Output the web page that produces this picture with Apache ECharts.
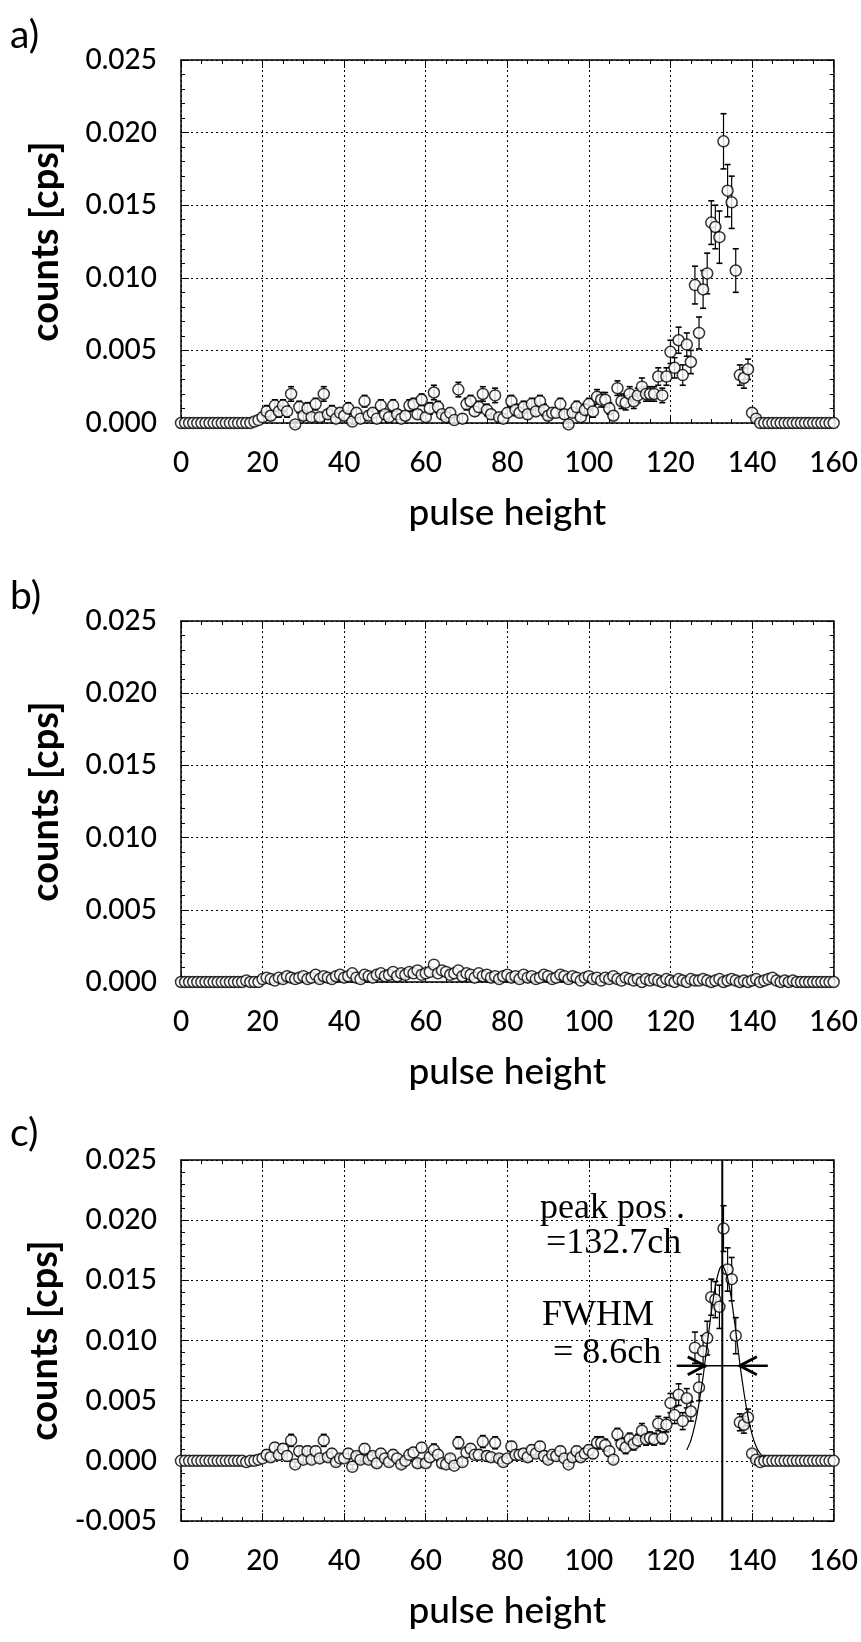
<!DOCTYPE html>
<html><head><meta charset="utf-8">
<script src="https://cdn.jsdelivr.net/npm/echarts@6/dist/echarts.min.js"></script>
<style>html,body{margin:0;padding:0;background:#fff}#c{width:861px;height:1642px}</style>
</head><body><div id="c"></div>
<script>
// ---------- data ----------
const channels = []; for (let i = 0; i <= 160; i++) channels.push(i);
const xTickValues = [0, 20, 40, 60, 80, 100, 120, 140, 160];

// a) measured spectrum [cps], channel 0..160
const countsA = [
 0,0,0,0,0,0,0,0,0,0,
 0,0,0,0,0,0,0,0,0.0001,0.0002,
 0.0004,0.0008,0.0005,0.0012,0.0008,0.0012,0.0008,0.0020,-0.0001,0.0011,
 0.0005,0.0010,0.0004,0.0013,0.0004,0.0020,0.0006,0.0008,0.0003,0.0007,
 0.0005,0.0010,0.0001,0.0007,0.0003,0.0015,0.0005,0.0007,0.0003,0.0012,
 0.0006,0.0004,0.0012,0.0006,0.0003,0.0005,0.0012,0.0013,0.0006,0.0016,
 0.0004,0.0010,0.0021,0.0011,0.0006,0.0004,0.0007,0.0002,0.0023,0.0003,
 0.0013,0.0015,0.0008,0.0011,0.0020,0.0009,0.0006,0.0019,0.0004,0.0003,
 0.0007,0.0015,0.0009,0.0007,0.0011,0.0006,0.0013,0.0008,0.0015,0.0009,
 0.0005,0.0007,0.0007,0.0013,0.0006,-0.0001,0.0007,0.0011,0.0004,0.0009,
 0.0013,0.0008,0.0018,0.0016,0.0016,0.0010,0.0005,0.0024,0.0015,0.0014,
 0.0020,0.0015,0.0019,0.0025,0.0020,0.0020,0.0020,0.0032,0.0019,0.0032,
 0.0049,0.0038,0.0057,0.0033,0.0054,0.0042,0.0095,0.0062,0.0092,0.0103,
 0.0138,0.0135,0.0128,0.0194,0.0160,0.0152,0.0105,0.0033,0.0031,0.0037,
 0.0007,0.0003,0,0,0,0,0,0,0,0,
 0,0,0,0,0,0,0,0,0,0,
 0
];
const errA = [
 0,0,0,0,0,0,0,0,0,0,
 0,0,0,0,0,0,0,0,0.0001,0.0001,
 0.0003,0.0004,0.0003,0.0004,0.0004,0.0004,0.0004,0.0005,0.0002,0.0004,
 0.0003,0.0004,0.0003,0.0004,0.0003,0.0005,0.0003,0.0004,0.0003,0.0003,
 0.0003,0.0004,0.0002,0.0003,0.0003,0.0004,0.0003,0.0003,0.0003,0.0004,
 0.0003,0.0003,0.0004,0.0003,0.0003,0.0003,0.0004,0.0004,0.0003,0.0004,
 0.0003,0.0004,0.0005,0.0004,0.0003,0.0003,0.0003,0.0002,0.0005,0.0003,
 0.0004,0.0004,0.0003,0.0004,0.0005,0.0004,0.0003,0.0005,0.0003,0.0003,
 0.0003,0.0004,0.0004,0.0003,0.0004,0.0003,0.0004,0.0003,0.0004,0.0004,
 0.0003,0.0003,0.0003,0.0004,0.0003,0.0002,0.0003,0.0004,0.0003,0.0004,
 0.0004,0.0004,0.0005,0.0005,0.0005,0.0004,0.0003,0.0005,0.0005,0.0005,
 0.0005,0.0005,0.0005,0.0006,0.0005,0.0005,0.0005,0.0006,0.0005,0.0006,
 0.0008,0.0007,0.0009,0.0007,0.0008,0.0008,0.0013,0.0011,0.0013,0.0014,
 0.0015,0.0015,0.0018,0.0019,0.0018,0.0018,0.0015,0.0007,0.0007,0.0007,
 0.0003,0.0002,0,0,0,0,0,0,0,0,
 0,0,0,0,0,0,0,0,0,0,
 0
];

// b) background spectrum [cps]
const countsB = [
 0,0,0,0,0,0,0,0,0,0,
 0,0,0,0,0,0,0.0001,0,0,0,
 0.0002,0.0003,0.0002,0.0001,0.0003,0.0002,0.0004,0.0003,0.0002,0.0003,
 0.0004,0.0002,0.0003,0.0005,0.0002,0.0004,0.0003,0.0002,0.0004,0.0005,
 0.0003,0.0004,0.0006,0.0003,0.0002,0.0005,0.0004,0.0003,0.0005,0.0006,
 0.0004,0.0005,0.0007,0.0004,0.0006,0.0005,0.0007,0.0006,0.0008,0.0005,
 0.0006,0.0007,0.0012,0.0006,0.0008,0.0007,0.0005,0.0006,0.0008,0.0004,
 0.0006,0.0005,0.0003,0.0006,0.0004,0.0005,0.0003,0.0004,0.0002,0.0004,
 0.0005,0.0003,0.0004,0.0002,0.0005,0.0003,0.0004,0.0002,0.0003,0.0005,
 0.0004,0.0002,0.0003,0.0005,0.0004,0.0002,0.0004,0.0003,0.0001,0.0003,
 0.0004,0.0002,0.0003,0.0001,0.0003,0.0002,0.0004,0.0002,0.0001,0.0003,
 0.0002,0.0001,0.0002,0,0.0002,0.0001,0.0002,0.0001,0,0.0002,
 0.0001,0,0.0002,0.0001,0,0.0002,0.0001,0.0001,0.0002,0.0001,
 0,0.0001,0.0002,0,0.0001,0.0002,0.0001,0,0.0001,0,
 0.0001,0.0002,0,0.0001,0.0002,0.0003,0.0001,0,0.0001,0,
 0.0001,0,0,0,0,0,0,0,0,0,
 0
];

// c) background-subtracted spectrum [cps]
const countsC = [
 0,0,0,0,0,0,0,0,0,0,
 0,0,0,0,0,0,-0.0001,0,0,0.0001,
 0.0002,0.0005,0.0003,0.0011,0.0005,0.0010,0.0004,0.0017,-0.0003,0.0008,
 0.0001,0.0008,0.0001,0.0008,0.0002,0.0017,0.0003,0.0006,-0.0001,0.0002,
 0.0002,0.0006,-0.0005,0.0004,0.0001,0.0010,0.0001,0.0004,-0.0002,0.0006,
 0.0002,-0.0001,0.0005,0.0002,-0.0003,0.0000,0.0005,0.0007,-0.0002,0.0011,
 -0.0002,0.0003,0.0009,0.0005,-0.0002,-0.0003,0.0002,-0.0004,0.0015,-0.0001,
 0.0007,0.0010,0.0005,0.0005,0.0016,0.0004,0.0003,0.0015,0.0002,-0.0001,
 0.0002,0.0012,0.0005,0.0005,0.0006,0.0003,0.0009,0.0006,0.0012,0.0004,
 0.0001,0.0005,0.0004,0.0008,0.0002,-0.0003,0.0003,0.0008,0.0003,0.0006,
 0.0009,0.0006,0.0015,0.0015,0.0013,0.0008,0.0001,0.0022,0.0014,0.0011,
 0.0018,0.0014,0.0017,0.0025,0.0018,0.0019,0.0018,0.0031,0.0019,0.0030,
 0.0048,0.0038,0.0055,0.0033,0.0052,0.0041,0.0094,0.0061,0.0091,0.0102,
 0.0136,0.0134,0.0128,0.0193,0.0159,0.0151,0.0104,0.0032,0.0030,0.0036,
 0.0006,0.0001,-0.0001,0,0,0,0,0,0,0,
 0,0,0,0,0,0,0,0,0,0,
 0
];
const errC = errA;

// Gaussian fit curve
const fitX = [124,125,126,127,128,129,130,131,132,132.7,133,134,135,136,137,138,139,140,141,142,143];
const fitY = [0.0009,0.0017,0.0030,0.0048,0.0070,0.0097,0.0123,0.0145,0.0159,0.0162,0.0161,0.0152,0.0133,0.0108,0.0081,0.0057,0.0037,0.0022,0.0012,0.0006,0.0003];
const peakPos = 132.7;   // ch
const fwhm = 8.6;        // ch
const halfMaxLevel = 0.0079;

// ---------- chart ----------
const TICK_FONT = 'Lato';
const ANN_FONT = 'Liberation Serif';
const grids = [
  {left: 181, top: 60, width: 657, height: 363},
  {left: 181, top: 621, width: 657, height: 361},
  {left: 181, top: 1160, width: 657, height: 361}
];
const yMins = [0, 0, -0.005];

const black = '#000';
const xAxes = [], yAxes = [];
grids.forEach((g, p) => {
  xAxes.push({
    type: 'value', gridIndex: p, min: 0, max: 160, interval: 20, position: 'bottom',
    axisLine: {show: true, onZero: false, lineStyle: {color: black, width: 1.5}},
    axisTick: {show: true, inside: true, length: 8, lineStyle: {color: black, width: 1}},
    minorTick: {show: true, splitNumber: 4, length: 4, lineStyle: {color: black, width: 1}},
    splitLine: {show: true, lineStyle: {color: black, width: 1, type: [2, 3]}},
    axisLabel: {color: black, fontSize: 28, fontFamily: TICK_FONT, fontWeight: 500, margin: 26},
    name: 'pulse height', nameLocation: 'middle', nameGap: 72,
    nameTextStyle: {color: black, fontSize: 37, fontFamily: TICK_FONT, fontWeight: 500}
  });
  xAxes.push({
    type: 'value', gridIndex: p, min: 0, max: 160, interval: 20, position: 'top',
    axisLine: {show: true, onZero: false, lineStyle: {color: black, width: 1.5}},
    axisTick: {show: true, inside: true, length: 8, lineStyle: {color: black, width: 1}},
    minorTick: {show: true, splitNumber: 4, length: 4, lineStyle: {color: black, width: 1}},
    splitLine: {show: false}, axisLabel: {show: false}
  });
  yAxes.push({
    type: 'value', gridIndex: p, min: yMins[p], max: 0.025, interval: 0.005, position: 'left',
    axisLine: {show: true, onZero: false, lineStyle: {color: black, width: 1.5}},
    axisTick: {show: true, inside: true, length: 8, lineStyle: {color: black, width: 1}},
    minorTick: {show: true, splitNumber: 5, length: 4, lineStyle: {color: black, width: 1}},
    splitLine: {show: true, lineStyle: {color: black, width: 1, type: [2, 3]}},
    axisLabel: {color: black, fontSize: 28, fontFamily: TICK_FONT, fontWeight: 500, margin: 24,
      formatter: v => v.toFixed(3)},
    name: 'counts [cps]', nameLocation: 'middle', nameGap: 116, nameRotate: 90,
    nameTextStyle: {color: black, fontSize: 38, fontFamily: TICK_FONT, fontWeight: 'bold'}
  });
  yAxes.push({
    type: 'value', gridIndex: p, min: yMins[p], max: 0.025, interval: 0.005, position: 'right',
    axisLine: {show: true, onZero: false, lineStyle: {color: black, width: 1.5}},
    axisTick: {show: true, inside: true, length: 8, lineStyle: {color: black, width: 1}},
    minorTick: {show: true, splitNumber: 5, length: 4, lineStyle: {color: black, width: 1}},
    splitLine: {show: false}, axisLabel: {show: false}
  });
});

function errorBarItem(params, api) {
  const x = api.value(0), y = api.value(1), e = api.value(2);
  if (!(e > 0)) return null;
  const hi = api.coord([x, y + e]), lo = api.coord([x, y - e]);
  const w = 3;
  return {type: 'group', children: [
    {type: 'line', shape: {x1: hi[0], y1: hi[1], x2: lo[0], y2: lo[1]}, style: {stroke: black, lineWidth: 1.2}},
    {type: 'line', shape: {x1: hi[0] - w, y1: hi[1], x2: hi[0] + w, y2: hi[1]}, style: {stroke: black, lineWidth: 1.6}},
    {type: 'line', shape: {x1: lo[0] - w, y1: lo[1], x2: lo[0] + w, y2: lo[1]}, style: {stroke: black, lineWidth: 1.6}}
  ]};
}

function fwhmItem(params, api) {
  const l = api.coord([api.value(0), api.value(1)]);
  const r = api.coord([api.value(2), api.value(1)]);
  const shaft = 28, ax = 17, ay = 9;
  return {type: 'group', children: [
    {type: 'line', shape: {x1: l[0] - shaft, y1: l[1], x2: l[0], y2: l[1]}, style: {stroke: black, lineWidth: 2.5}},
    {type: 'line', shape: {x1: l[0], y1: l[1], x2: r[0], y2: r[1]}, style: {stroke: black, lineWidth: 1.6}},
    {type: 'line', shape: {x1: r[0], y1: r[1], x2: r[0] + shaft, y2: r[1]}, style: {stroke: black, lineWidth: 2.5}},
    {type: 'polyline', shape: {points: [[l[0] - ax, l[1] - ay], [l[0], l[1]], [l[0] - ax, l[1] + ay]]}, style: {stroke: black, fill: null, lineWidth: 3}},
    {type: 'polyline', shape: {points: [[r[0] + ax, r[1] - ay], [r[0], r[1]], [r[0] + ax, r[1] + ay]]}, style: {stroke: black, fill: null, lineWidth: 3}}
  ]};
}

function pts(vals) { return channels.map((c, i) => [c, vals[i]]); }
function errPts(vals, errs) { return channels.map((c, i) => [c, vals[i], errs[i]]); }
const markerStyle = {color: '#fff', borderColor: black, borderWidth: 1.5};
const MS = 11;

const series = [
  {type: 'custom', xAxisIndex: 0, yAxisIndex: 0, renderItem: errorBarItem, data: errPts(countsA, errA), encode: {x: 0, y: 1}, clip: false, silent: true, z: 2},
  {type: 'scatter', xAxisIndex: 0, yAxisIndex: 0, data: pts(countsA), symbol: 'circle', symbolSize: MS, itemStyle: markerStyle, clip: false, silent: true, z: 3},
  {type: 'scatter', xAxisIndex: 2, yAxisIndex: 2, data: pts(countsB), symbol: 'circle', symbolSize: MS, itemStyle: markerStyle, clip: false, silent: true, z: 3},
  {type: 'custom', xAxisIndex: 4, yAxisIndex: 4, renderItem: errorBarItem, data: errPts(countsC, errC), encode: {x: 0, y: 1}, clip: false, silent: true, z: 2},
  {type: 'scatter', xAxisIndex: 4, yAxisIndex: 4, data: pts(countsC), symbol: 'circle', symbolSize: MS, itemStyle: markerStyle, clip: false, silent: true, z: 3},
  {type: 'line', xAxisIndex: 4, yAxisIndex: 4, data: fitX.map((x, i) => [x, fitY[i]]), smooth: 0.3, symbol: 'none', lineStyle: {color: black, width: 1.2}, silent: true, z: 4},
  {type: 'line', xAxisIndex: 4, yAxisIndex: 4, data: [[peakPos, -0.005], [peakPos, 0.025]], symbol: 'none', lineStyle: {color: black, width: 2}, silent: true, z: 5},
  {type: 'custom', xAxisIndex: 4, yAxisIndex: 4, renderItem: fwhmItem, data: [[peakPos - fwhm / 2, halfMaxLevel, peakPos + fwhm / 2]], encode: {x: [0, 2], y: 1}, clip: false, silent: true, z: 6}
];

const annStyle = {fill: black, fontSize: 36, fontFamily: ANN_FONT};
const graphic = [
  {type: 'text', left: 10, top: 16, style: {text: 'a)', fill: black, fontSize: 39, fontFamily: TICK_FONT}},
  {type: 'text', left: 10, top: 577, style: {text: 'b)', fill: black, fontSize: 39, fontFamily: TICK_FONT}},
  {type: 'text', left: 10, top: 1114, style: {text: 'c)', fill: black, fontSize: 39, fontFamily: TICK_FONT}},
  {type: 'text', left: 540, top: 1191, style: Object.assign({text: 'peak pos .'}, annStyle)},
  {type: 'text', left: 546, top: 1226, style: Object.assign({text: '=132.7ch'}, annStyle)},
  {type: 'text', left: 542, top: 1298, style: Object.assign({text: 'FWHM'}, annStyle)},
  {type: 'text', left: 553, top: 1336, style: Object.assign({text: '= 8.6ch'}, annStyle)}
];

const chart = echarts.init(document.getElementById('c'), null, {renderer: 'canvas'});
chart.setOption({
  animation: false,
  backgroundColor: '#fff',
  grid: grids,
  xAxis: xAxes,
  yAxis: yAxes,
  series: series,
  graphic: graphic
});
</script>
</body></html>
